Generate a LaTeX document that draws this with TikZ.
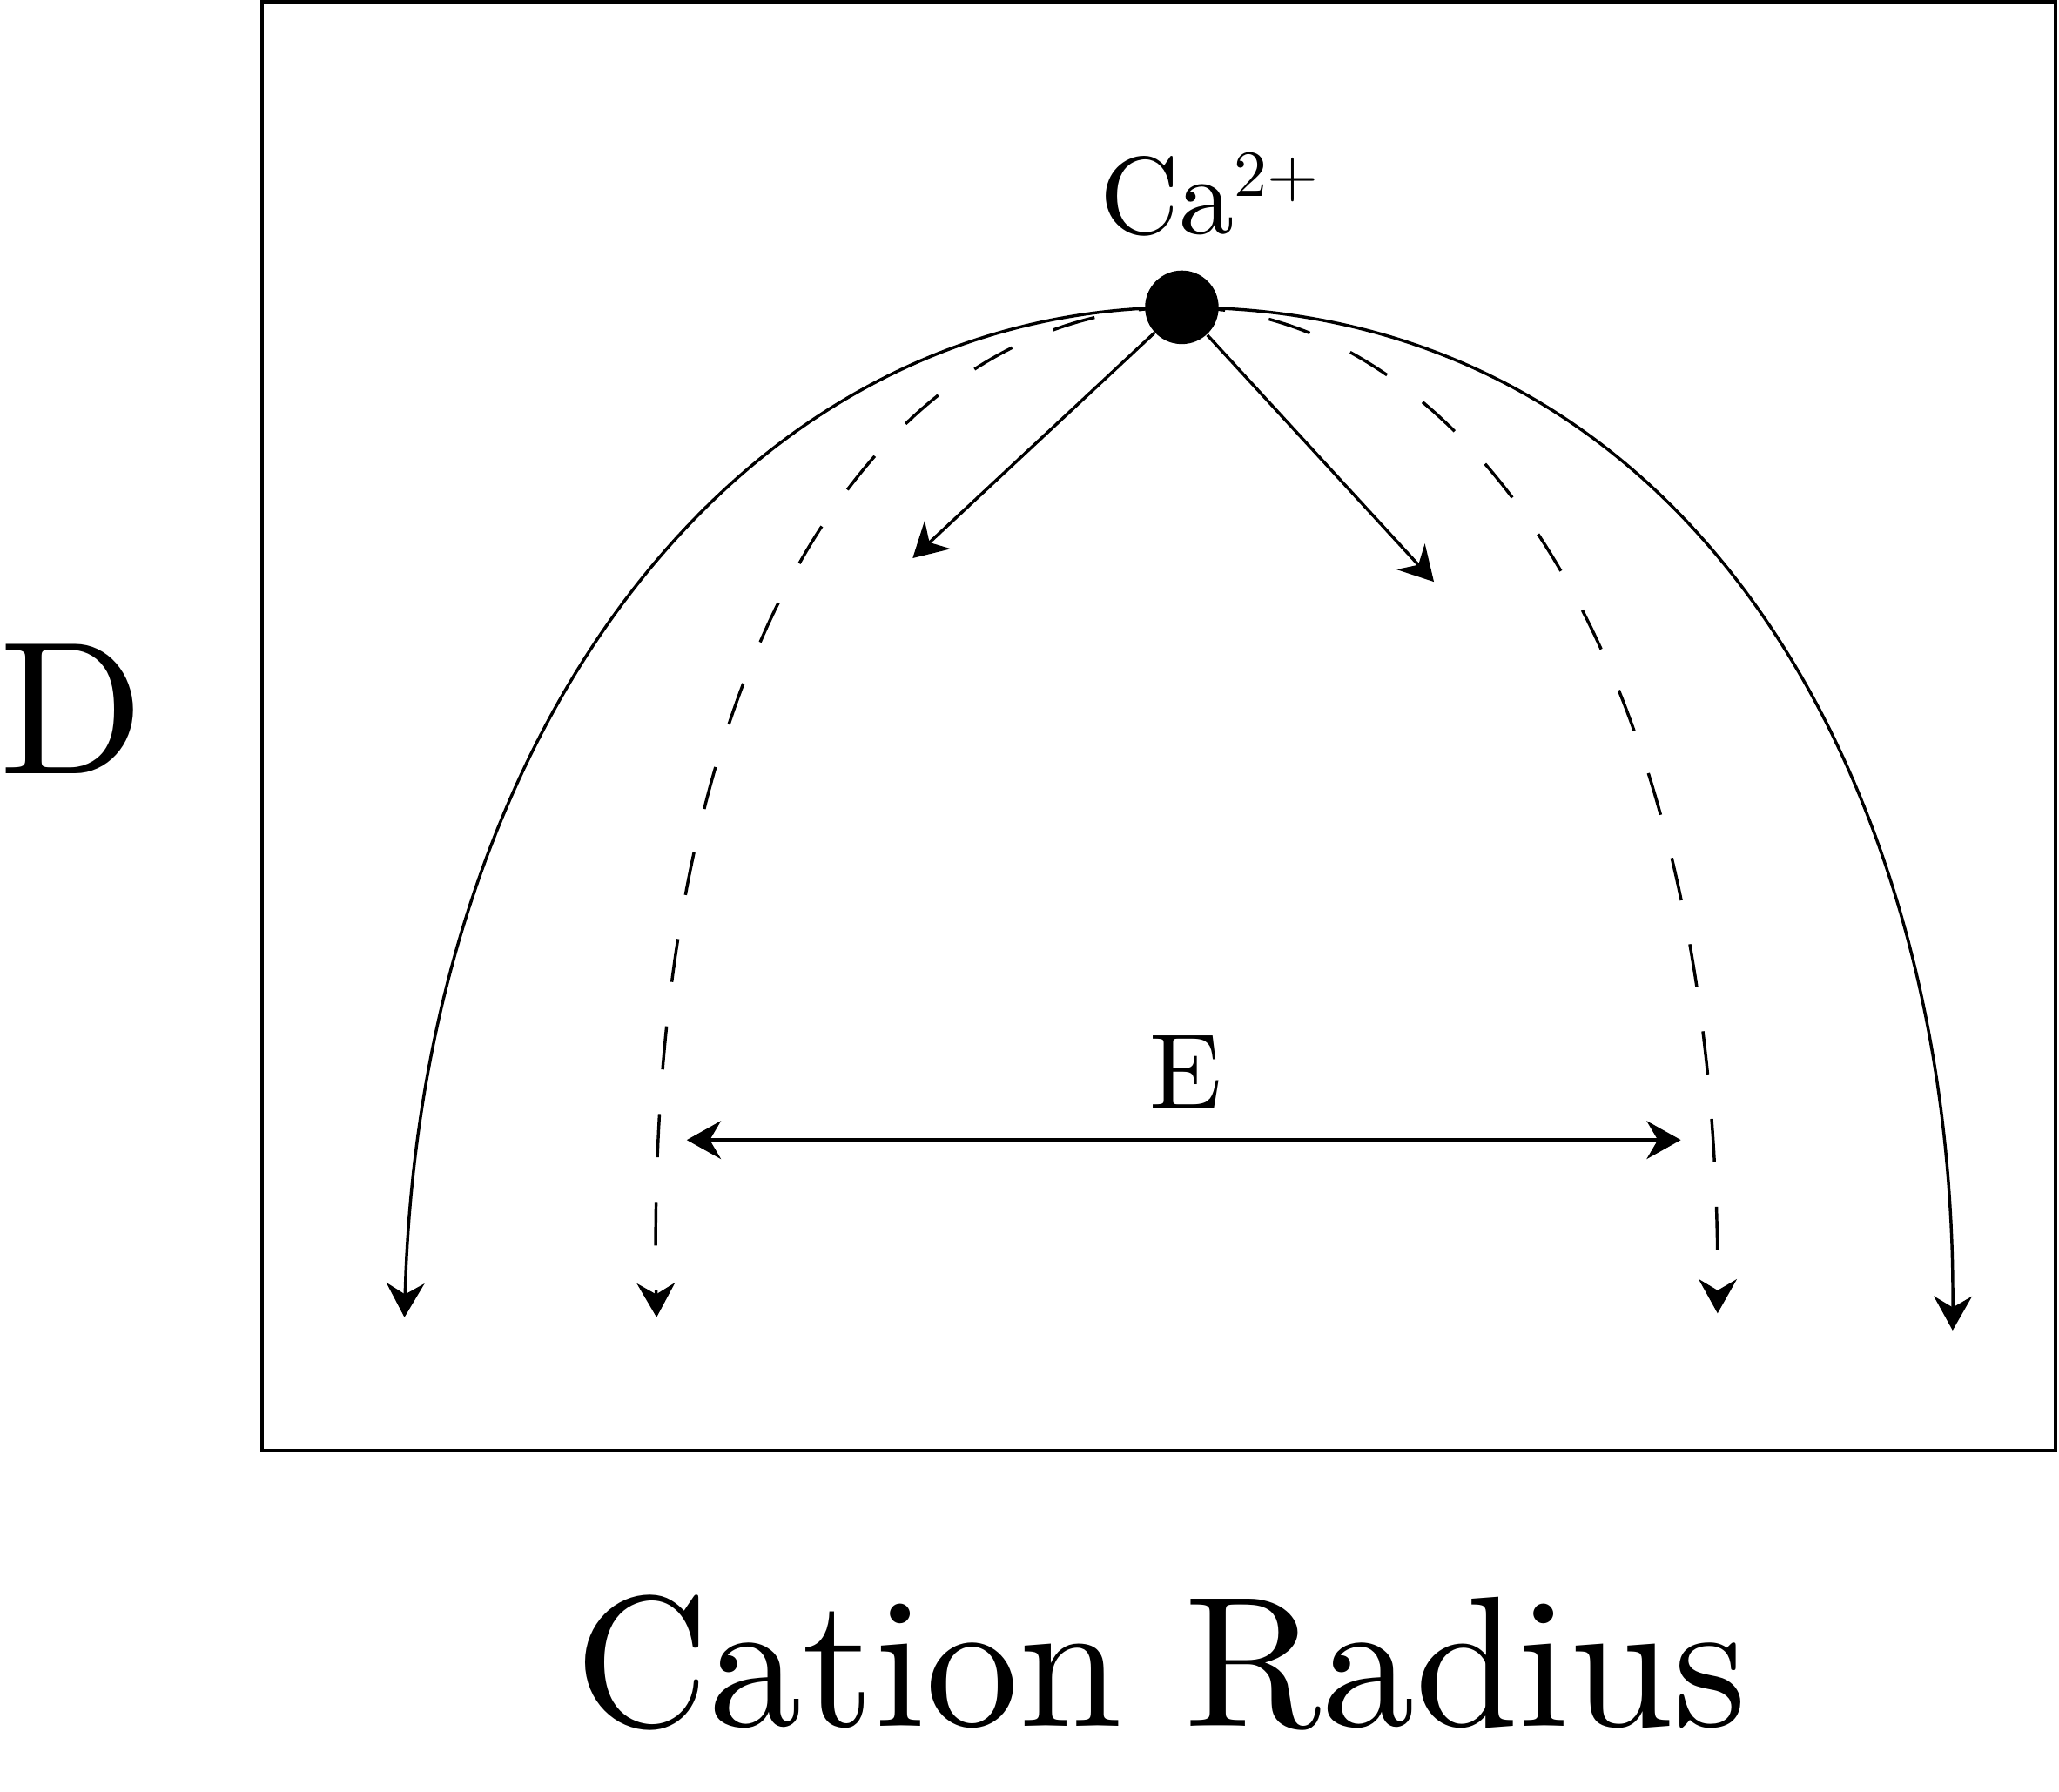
\documentclass[tikz,border=0pt]{standalone}
\usetikzlibrary{arrows.meta}
\begin{document}
\begin{tikzpicture}[x=0.01cm,y=-0.01cm,
  ln/.style={line width=0.65pt},
  tip/.style={-{Stealth[length=0.26cm,width=0.29cm,inset=0.085cm]}},
  dtip/.style={{Stealth[length=0.26cm,width=0.29cm,inset=0.085cm]}-{Stealth[length=0.26cm,width=0.29cm,inset=0.085cm]}},
  dsh/.style={dash pattern=on 0.33cm off 0.34cm},
  dotnode/.style={circle,fill=black,inner sep=0pt,minimum size=0.56cm}]
\useasboundingbox (0,0) rectangle (1568,1364);
\node[draw,line width=0.8pt,minimum width=13.65cm,minimum height=11.02cm,inner sep=0pt] (frame) at (882.5,553) {};
\coordinate (apex) at (900,234);
\coordinate (l1) at (308,1003);
\coordinate (r1) at (1487,1013);
\coordinate (l2) at (500,1003);
\coordinate (r2) at (1308,1000);
\coordinate (sa) at (695,425);
\coordinate (sb) at (1092,443);
\coordinate (ea) at (523,868);
\coordinate (eb) at (1280,868);
\draw[ln,tip] (apex) .. controls (560,234) and (320,560) .. (l1);
\draw[ln,tip] (apex) .. controls (1290,234) and (1490,600) .. (r1);
\draw[ln,tip,dsh] (apex) .. controls (680,234) and (490,480) .. (l2);
\draw[ln,tip,dsh] (apex) .. controls (1100,234) and (1310,480) .. (r2);
\node[dotnode] (ca) at (apex) {};
\draw[ln,tip] (ca) -- (sa);
\draw[ln,tip] (ca) -- (sb);
\draw[ln,dtip] (ea) -- (eb);
\node[scale=2.38,anchor=base west,inner sep=0pt] (calbl) at (836,178) {Ca\raisebox{3.4pt}{\scalebox{0.6}{2+}}};
\node[scale=2.3] (elbl) at (903,816) {E};
\node[scale=4.1] (dlbl) at (55,540) {D};
\node[scale=4.03] (xlbl) at (884,1266) {Cation Radius};
\end{tikzpicture}
\end{document}
